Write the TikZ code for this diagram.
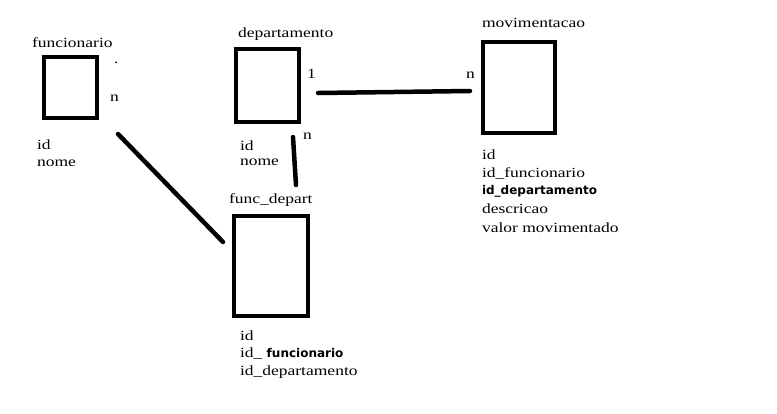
\documentclass[tikz,border=0pt]{standalone}
\usepackage{fontspec}
\setmainfont[FakeStretch=1.25]{Liberation Serif}
\newfontfamily\bsans{DejaVu Sans}
\begin{document}
\begin{tikzpicture}[x=1pt,y=-1pt,
  ent/.style={draw, line width=4pt, inner sep=0pt, outer sep=0pt, anchor=north west},
  lbl/.style={anchor=base west, inner sep=0pt, outer sep=0pt, font=\fontsize{14}{16}\selectfont},
  bsf/.style={anchor=base west, inner sep=0pt, outer sep=0pt, font=\bsans\bfseries\fontsize{12}{14}\selectfont},
  rel/.style={line width=4.5pt, line cap=round}]
\useasboundingbox[fill=white] (0,0) rectangle (777,413);
% entities
\node[ent, minimum width=53pt, minimum height=61pt] (func) at (44,57) {};
\node[ent, minimum width=63pt, minimum height=73pt] (dept) at (236,49) {};
\node[ent, minimum width=72pt, minimum height=91pt] (mov) at (483,42) {};
\node[ent, minimum width=74pt, minimum height=100pt] (fd) at (234,216) {};
% titles
\node[lbl] (tfunc) at (32,47) {funcionario};
\node[lbl] (tdept) at (238,37) {departamento};
\node[lbl] (tmov) at (482,27) {movimentacao};
\node[lbl] (tfd) at (229,203) {func\_depart};
% cardinalities
\node[lbl] (dot) at (114,63) {.};
\node[lbl] (nf) at (110,101) {n};
\node[lbl] (one) at (307,78) {1};
\node[lbl] (nd) at (303,139) {n};
\node[lbl] (nm) at (466,78) {n};
% fields
\node[lbl] (f1) at (37,149) {id};
\node[lbl] (f2) at (37,166) {nome};
\node[lbl] (d1) at (240,150) {id};
\node[lbl] (d2) at (240,165) {nome};
\node[lbl] (m1) at (482,159) {id};
\node[lbl] (m2) at (482,177) {id\_funcionario};
\node[bsf] (m3) at (482,194) {id\_departamento};
\node[lbl] (m4) at (482,213) {descricao};
\node[lbl] (m5) at (482,232) {valor movimentado};
\node[lbl] (x1) at (240,340) {id};
\node[lbl] (x2) at (240,357) {id\_ {\bsans\bfseries\fontsize{12}{14}\selectfont funcionario}};
\node[lbl] (x3) at (240,375) {id\_departamento};
% connectors
\coordinate (a1) at (118,134);
\coordinate (a2) at (223,242);
\coordinate (b1) at (293,137);
\coordinate (b2) at (296,185);
\coordinate (c1) at (318,93);
\coordinate (c2) at (470,91);
\draw[rel] (a1) -- (a2);
\draw[rel] (b1) -- (b2);
\draw[rel] (c1) -- (c2);
\end{tikzpicture}
\end{document}
